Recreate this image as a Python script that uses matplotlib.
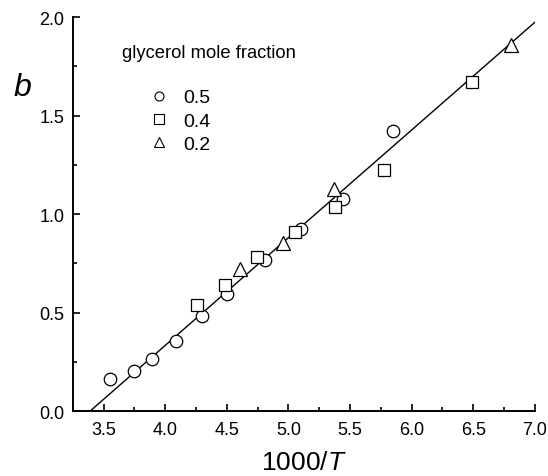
import numpy as np
import matplotlib
matplotlib.use("Agg")
import matplotlib.pyplot as plt
from matplotlib.ticker import MultipleLocator

plt.rcParams['font.family'] = ['Liberation Sans', 'DejaVu Sans']
plt.rcParams['mathtext.fontset'] = 'custom'
plt.rcParams['mathtext.rm'] = 'Liberation Sans'
plt.rcParams['mathtext.it'] = 'Liberation Sans:italic'

# glycerol mole fraction 0.5
x_05 = [3.55, 3.745, 3.895, 4.085, 4.30, 4.50, 4.81, 5.105, 5.44, 5.85]
y_05 = [0.165, 0.203, 0.267, 0.356, 0.482, 0.594, 0.766, 0.924, 1.076, 1.421]
# glycerol mole fraction 0.4
x_04 = [4.257, 4.488, 4.741, 5.054, 5.375, 5.779, 6.491]
y_04 = [0.541, 0.638, 0.780, 0.907, 1.037, 1.222, 1.671]
# glycerol mole fraction 0.2
x_02 = [4.607, 4.954, 5.373, 6.804]
y_02 = [0.723, 0.851, 1.127, 1.859]

# fitted line
slope = 0.5467
intercept = -1.853
fit_x = [3.389, 7.0]

fig = plt.figure(figsize=(5.48, 4.77), dpi=100)
ax = fig.add_axes([0.133, 0.136, 0.843, 0.826])

fx = np.array(fit_x)
ax.plot(fx, slope * fx + intercept, color='black', lw=1.0)

mk = dict(linestyle='none', mfc='white', mec='black', mew=0.9)
ax.plot(x_05, y_05, marker='o', ms=9, **mk)
ax.plot(x_04, y_04, marker='s', ms=8.5, **mk)
ax.plot(x_02, y_02, marker='^', ms=10, **mk)

# legend with small markers
lmk = dict(linestyle='none', mfc='white', mec='black', mew=0.8, ms=6.5)
h1, = ax.plot([], [], marker='o', **lmk)
h2, = ax.plot([], [], marker='s', **lmk)
h3, = ax.plot([], [], marker='^', **lmk)
ax.legend([h1, h2, h3], ['0.5', '0.4', '0.2'], loc='upper left',
          bbox_to_anchor=(0.165, 0.818), frameon=False, fontsize=14,
          handlelength=1.0, handletextpad=0.75, labelspacing=0.28,
          borderpad=0, borderaxespad=0)
ax.text(0.106, 0.91, 'glycerol mole fraction', transform=ax.transAxes,
        fontsize=13.2, ha='left', va='center')

ax.set_xlim(3.25, 7.0)
ax.set_ylim(0, 2.0)
ax.xaxis.set_major_locator(MultipleLocator(0.5))
ax.xaxis.set_minor_locator(MultipleLocator(0.25))
ax.yaxis.set_major_locator(MultipleLocator(0.5))
ax.yaxis.set_minor_locator(MultipleLocator(0.25))
ax.xaxis.set_major_formatter(plt.FormatStrFormatter('%.1f'))
ax.yaxis.set_major_formatter(plt.FormatStrFormatter('%.1f'))

for s in ['top', 'right']:
    ax.spines[s].set_visible(False)
for s in ['left', 'bottom']:
    ax.spines[s].set_linewidth(1.4)

ax.tick_params(axis='both', which='major', direction='in', length=5, width=1.2,
               labelsize=13)
ax.tick_params(axis='both', which='minor', direction='in', length=3, width=1.2)
ax.tick_params(axis='x', which='major', pad=7)
ax.tick_params(axis='y', which='major', pad=6)

ax.set_xlabel('1000/$\\mathit{T}$', fontsize=19, labelpad=9)
ax.set_ylabel('$\\mathit{b}$', fontsize=23, rotation=0)
ax.yaxis.set_label_coords(-0.11, 0.785)

fig.savefig('out.png', dpi=100)
